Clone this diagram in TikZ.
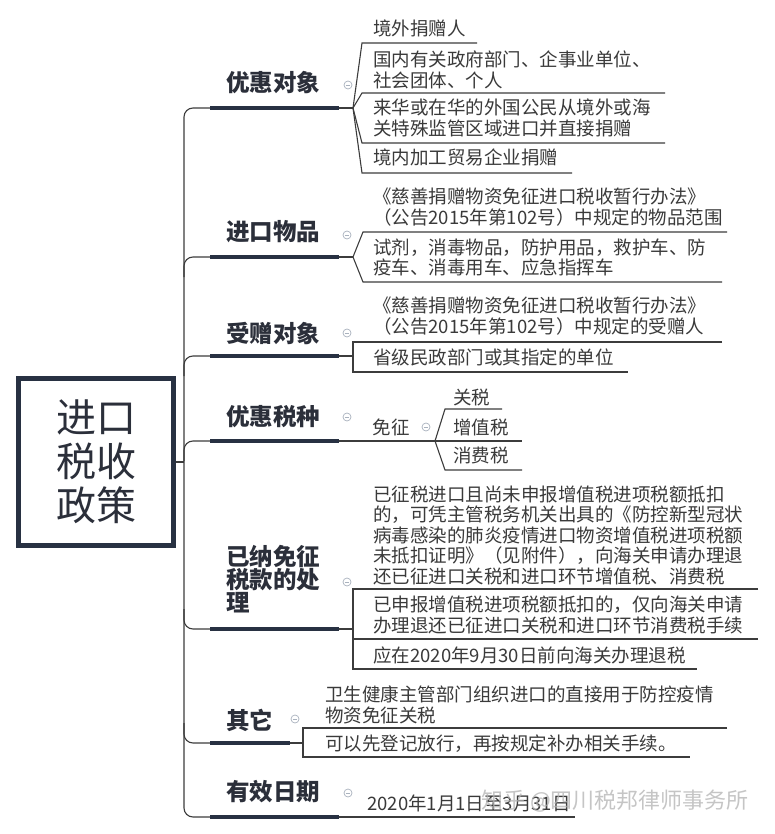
\documentclass[tikz,border=0pt]{standalone}
\usepackage{fontspec}
\setmainfont{Noto Sans CJK SC}
\usetikzlibrary{calc}
\definecolor{navy}{HTML}{283142}
\definecolor{headc}{HTML}{2B2F3A}
\definecolor{leafc}{HTML}{3A3A3A}
\definecolor{linec}{HTML}{3C3C3C}
\definecolor{foldc}{HTML}{A9B2BE}
\begin{document}
\begin{tikzpicture}[x=1pt,y=-1pt,
  conn/.style={line width=1.1pt, draw=linec},
  bar/.style={line width=4.5pt, draw=navy},
  rootbox/.style={draw=navy, line width=5pt, minimum width=155pt, minimum height=167pt, align=center, inner sep=0pt, text=headc, font=\fontsize{40}{44}\selectfont},
  head/.style={anchor=west, inner sep=0pt, align=left, text=headc, font=\fontsize{23.5}{23}\selectfont\bfseries},
  leaf/.style={anchor=west, inner sep=0pt, align=left, text=leafc, font=\fontsize{18.5}{20.5}\selectfont},
  fold/.style={circle, draw=foldc, line width=0.7pt, minimum size=8pt, inner sep=0pt,
    path picture={\draw[foldc, line width=0.7pt] ([xshift=-2.2pt]path picture bounding box.center) -- ([xshift=2.2pt]path picture bounding box.center);}}
]
\fill[white] (0,0) rectangle (775,834);
\useasboundingbox (0,0) rectangle (775,834);

% root
\node[rootbox] (root) at (96,462) {进口\\税收\\政策};
\coordinate (rj) at (184,462);
\draw[conn] (root.east) -- (rj);

% trunk and branch joints
\coordinate (tA) at (184,108); \coordinate (jA) at (210,108); \coordinate (kA) at (339,108);
\coordinate (tB) at (184,257); \coordinate (jB) at (210,257); \coordinate (kB) at (339,257);
\coordinate (tC) at (184,356); \coordinate (jC) at (210,356); \coordinate (kC) at (339,356);
\coordinate (tD) at (184,441); \coordinate (jD) at (210,441); \coordinate (kD) at (339,441);
\coordinate (tE) at (184,629); \coordinate (jE) at (210,629); \coordinate (kE) at (339,629);
\coordinate (tF) at (184,743); \coordinate (jF) at (210,743); \coordinate (kF) at (290,743);
\coordinate (tG) at (184,817); \coordinate (jG) at (210,817); \coordinate (kG) at (339,817);

\draw[conn, rounded corners=9pt] (jA) -- (tA) -- (tG) -- (jG);
\draw[conn, rounded corners=9pt] ($(tB)+(0,20)$) -- (tB) -- (jB);
\draw[conn, rounded corners=9pt] ($(tC)+(0,20)$) -- (tC) -- (jC);
\draw[conn, rounded corners=9pt] ($(tD)+(0,20)$) -- (tD) -- (jD);
\draw[conn, rounded corners=9pt] ($(tE)+(0,-20)$) -- (tE) -- (jE);
\draw[conn, rounded corners=9pt] ($(tF)+(0,-20)$) -- (tF) -- (jF);

\draw[bar] (jA) -- (kA);
\draw[bar] (jB) -- (kB);
\draw[bar] (jC) -- (kC);
\draw[bar] (jD) -- (kD);
\draw[bar] (jE) -- (kE);
\draw[bar] (jF) -- (kF);
\draw[bar] (jG) -- (kG);

% headings
\node[head] (hA) at (226,83) {优惠对象};
\node[head] (hB) at (226,232) {进口物品};
\node[head] (hC) at (226,333) {受赠对象};
\node[head] (hD) at (226,417) {优惠税种};
\node[head] (hE) at (226,579) {已纳免征\\税款的处\\理};
\node[head] (hF) at (226,720) {其它};
\node[head] (hG) at (226,792) {有效日期};

% fold markers
\node[fold] (oA) at (348,85) {};
\node[fold] (oB) at (347,235) {};
\node[fold] (oC) at (347,333) {};
\node[fold] (oD) at (347,417) {};
\node[fold] (oD2) at (426,427) {};
\node[fold] (oE) at (347,582) {};
\node[fold] (oF) at (295,719) {};
\node[fold] (oG) at (348,793) {};

% ---- A: 优惠对象
\coordinate (fA) at (353,108);
\coordinate (a1l) at (362,43);  \coordinate (a1r) at (477,43);
\coordinate (a2l) at (362,93);  \coordinate (a2r) at (665,93);
\coordinate (a3l) at (362,143); \coordinate (a3r) at (665,143);
\coordinate (a4l) at (362,173); \coordinate (a4r) at (572,173);
\draw[conn] (kA) -- (fA);
\draw[conn] (fA) -- (a1l) -- (a1r);
\draw[conn] (fA) -- (a2l) -- (a2r);
\draw[conn] (fA) -- (a3l) -- (a3r);
\draw[conn] (fA) -- (a4l) -- (a4r);
\node[leaf] (a1) at (373,28) {境外捐赠人};
\node[leaf] (a2) at (373,70) {国内有关政府部门、企事业单位、\\社会团体、个人};
\node[leaf] (a3) at (373,118) {来华或在华的外国公民从境外或海\\关特殊监管区域进口并直接捐赠};
\node[leaf] (a4) at (373,157) {境内加工贸易企业捐赠};

% ---- B: 进口物品
\coordinate (fB) at (353,257);
\coordinate (b1l) at (363,232); \coordinate (b1r) at (727,232);
\coordinate (b2l) at (363,282); \coordinate (b2r) at (722,282);
\draw[conn] (kB) -- (fB);
\draw[conn] (fB) -- (b1l) -- (b1r);
\draw[conn] (fB) -- (b2l) -- (b2r);
\node[leaf] (b1) at (373,207) {《慈善捐赠物资免征进口税收暂行办法》\\（公告2015年第102号）中规定的物品范围};
\node[leaf] (b2) at (373,257.5) {试剂，消毒物品，防护用品，救护车、防\\疫车、消毒用车、应急指挥车};

% ---- C: 受赠对象
\coordinate (fC) at (353,356);
\coordinate (c1l) at (353,342); \coordinate (c1r) at (722,342);
\coordinate (c2l) at (353,372); \coordinate (c2r) at (628,372);
\draw[conn] (kC) -- (fC);
\draw[conn] (c1r) -- (c1l) -- (c2l) -- (c2r);
\node[leaf] (c1) at (373,316) {《慈善捐赠物资免征进口税收暂行办法》\\（公告2015年第102号）中规定的受赠人};
\node[leaf] (c2) at (373,357) {省级民政部门或其指定的单位};

% ---- D: 优惠税种
\coordinate (fD) at (435,441);
\coordinate (d1l) at (445,409); \coordinate (d1r) at (502,409);
\coordinate (d2r) at (522,441);
\coordinate (d3l) at (445,470); \coordinate (d3r) at (522,470);
\draw[conn] (kD) -- (fD) -- (d2r);
\draw[conn] (fD) -- (d1l) -- (d1r);
\draw[conn] (fD) -- (d3l) -- (d3r);
\node[leaf, anchor=center] (mz) at (391,427) {免征};
\node[leaf] (d1) at (453,397) {关税};
\node[leaf] (d2) at (453,427) {增值税};
\node[leaf] (d3) at (453,455) {消费税};

% ---- E: 已纳免征税款的处理
\coordinate (fE) at (353,629);
\coordinate (e1l) at (353,589); \coordinate (e1r) at (758,589);
\coordinate (e2l) at (353,639); \coordinate (e2r) at (758,639);
\coordinate (e3l) at (353,669); \coordinate (e3r) at (697,669);
\draw[conn] (kE) -- (fE);
\draw[conn] (e1r) -- (e1l) -- (e3l) -- (e3r);
\draw[conn] (e2l) -- (e2r);
\node[leaf] (e1) at (373,535) {已征税进口且尚未申报增值税进项税额抵扣\\的，可凭主管税务机关出具的《防控新型冠状\\病毒感染的肺炎疫情进口物资增值税进项税额\\未抵扣证明》（见附件），向海关申请办理退\\还已征进口关税和进口环节增值税、消费税};
\node[leaf] (e2) at (373,615) {已申报增值税进项税额抵扣的，仅向海关申请\\办理退还已征进口关税和进口环节消费税手续};
\node[leaf] (e3) at (373,655) {应在2020年9月30日前向海关办理退税};

% ---- F: 其它
\coordinate (fF) at (303,743);
\coordinate (f1l) at (303,728); \coordinate (f1r) at (727,728);
\coordinate (f2l) at (303,757); \coordinate (f2r) at (690,757);
\draw[conn] (kF) -- (fF);
\draw[conn] (f1r) -- (f1l) -- (f2l) -- (f2r);
\node[leaf] (f1) at (325,705) {卫生健康主管部门组织进口的直接用于防控疫情\\物资免征关税};
\node[leaf] (f2) at (325,744) {可以先登记放行，再按规定补办相关手续。};

% ---- G: 有效日期
\coordinate (gr) at (575,817);
\draw[conn] (kG) -- (gr);
\node[leaf] (g1) at (367,803) {2020年1月1日至3月31日};

% watermark
\node[anchor=west, inner sep=0pt, text=gray!60, opacity=0.75, font=\fontsize{22}{24}\selectfont] (wm) at (481,801) {知乎 @四川税邦律师事务所};
\end{tikzpicture}
\end{document}
